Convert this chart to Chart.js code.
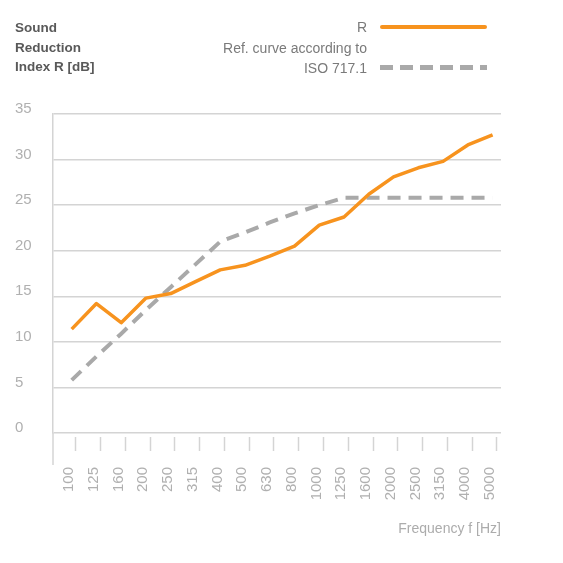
<!DOCTYPE html>
<html lang="en">
<head>
<meta charset="UTF-8">
<title>Sound Reduction Index R</title>
<script src="https://cdn.jsdelivr.net/npm/chart.js"></script>
<style>
  html, body { margin: 0; padding: 0; background: #fff; }
  #wrap { position: relative; width: 563px; height: 563px; font-family: "Liberation Sans", Arial, sans-serif; }
  #yTitle { position: absolute; left: 15px; top: 18px; font-size: 13.5px; font-weight: bold; line-height: 19.5px; color: #595959; }
  .lg { position: absolute; right: 196px; font-size: 14px; line-height: 20px; color: #7a7a7a; text-align: right; white-space: nowrap; }
  .swatch { position: absolute; left: 380px; width: 107px; }
  #swR { top: 25px; height: 4px; border-radius: 2px; background: #f7931e; }
  #swRef { top: 65px; height: 4.5px; background: repeating-linear-gradient(to right, #a9a9a9 0 13px, transparent 13px 20px); }
</style>
</head>
<body>
<div id="wrap">
  <canvas id="chart"></canvas>
  <div id="yTitle">Sound<br>Reduction<br>Index R [dB]</div>
  <div class="lg" style="top:17px">R</div>
  <div class="lg" style="top:38px">Ref. curve according to<br>ISO 717.1</div>
  <div class="swatch" id="swR"></div>
  <div class="swatch" id="swRef"></div>
</div>
<script>
  // Frequenzen (Terzbänder) und Werte aus der Vorlage
  const freqs = ["100", "125", "160", "200", "250", "315", "400", "500", "630", "800",
                 "1000", "1250", "1600", "2000", "2500", "3150", "4000", "5000"];
  const rValues = [11.4, 14.2, 12.1, 14.8, 15.3, 16.6, 17.9, 18.4, 19.4, 20.5,
                   22.8, 23.7, 26.2, 28.1, 29.1, 29.8, 31.6, 32.7];
  const refValues = [5.8, 8.4, 10.9, 13.5, 16.0, 18.5, 21.0, 22.0, 23.1, 24.1,
                     25.0, 25.8, 25.8, 25.8, 25.8, 25.8, 25.8, 25.8];
  const yTicks = [0, 5, 10, 15, 20, 25, 30, 35];

  const gridColor = "#d4d4d4";

  // verlängert die linke Achse unter die Nulllinie
  const axisExtension = {
    id: "axisExtension",
    afterDraw(chart) {
      const { ctx, chartArea } = chart;
      ctx.save();
      ctx.strokeStyle = gridColor;
      ctx.lineWidth = 1.5;
      ctx.beginPath();
      ctx.moveTo(chartArea.left, chartArea.bottom);
      ctx.lineTo(chartArea.left, chartArea.bottom + 32);
      ctx.stroke();
      ctx.restore();
    }
  };

  Chart.defaults.font.family = "'Liberation Sans', Arial, sans-serif";

  new Chart(document.getElementById("chart"), {
    type: "line",
    data: {
      datasets: [
        {
          label: "R",
          data: rValues.map((v, i) => ({ x: i, y: v })),
          borderColor: "#f7931e",
          borderWidth: 3.5,
          borderJoinStyle: "round",
          pointRadius: 0,
          tension: 0
        },
        {
          label: "Ref. curve according to ISO 717.1",
          data: refValues.map((v, i) => ({ x: i, y: v })),
          borderColor: "#a9a9a9",
          borderWidth: 4,
          borderDash: [13, 8],
          pointRadius: 0,
          tension: 0
        }
      ]
    },
    options: {
      responsive: true,
      maintainAspectRatio: false,
      animation: false,
      layout: { padding: { left: 15, right: 62, top: 114, bottom: 20 } },
      plugins: { legend: { display: false }, tooltip: { enabled: false } },
      scales: {
        x: {
          type: "linear",
          min: -0.755,
          max: 17.34,
          afterBuildTicks: (s) => { s.ticks = freqs.map((f, i) => ({ value: i + 0.17 })); },
          afterFit: (s) => { s.height = 110; },
          border: { display: false },
          grid: {
            drawOnChartArea: false,
            tickLength: 18,
            tickColor: gridColor,
            tickWidth: 1.5,
            tickBorderDash: [14, 4],
            tickBorderDashOffset: 14
          },
          ticks: {
            autoSkip: false,
            maxRotation: 90,
            minRotation: 90,
            labelOffset: -7,
            padding: 16,
            color: "#b0b0b0",
            font: { size: 15 },
            callback: (v, i) => freqs[i]
          },
          title: {
            display: true,
            text: "Frequency f [Hz]",
            align: "end",
            color: "#acacac",
            font: { size: 14 },
            padding: { top: 0, bottom: 5 }
          }
        },
        y: {
          min: 0,
          max: 35,
          afterBuildTicks: (s) => { s.ticks = yTicks.map((v) => ({ value: v })); },
          afterFit: (s) => { s.width = 38; },
          border: { display: true, color: gridColor, width: 1.5 },
          grid: { color: gridColor, lineWidth: 1.5, drawTicks: false },
          ticks: {
            crossAlign: "far",
            labelOffset: -5,
            color: "#b0b0b0",
            font: { size: 15 }
          }
        }
      }
    },
    plugins: [axisExtension]
  });
</script>
</body>
</html>
